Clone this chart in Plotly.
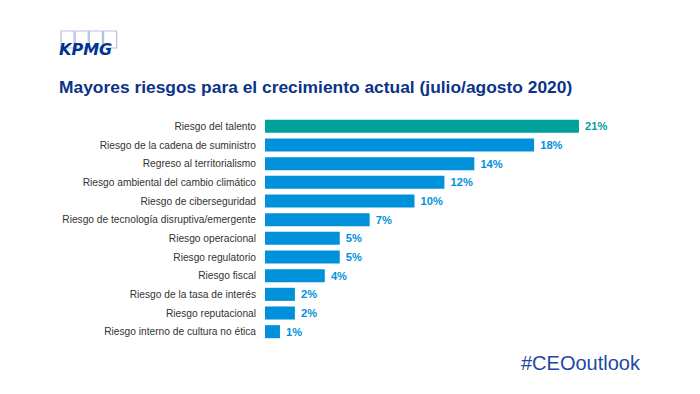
import plotly.graph_objects as go

categories = [
    "Riesgo del talento",
    "Riesgo de la cadena de suministro",
    "Regreso al territorialismo",
    "Riesgo ambiental del cambio climático",
    "Riesgo de ciberseguridad",
    "Riesgo de tecnología disruptiva/emergente",
    "Riesgo operacional",
    "Riesgo regulatorio",
    "Riesgo fiscal",
    "Riesgo de la tasa de interés",
    "Riesgo reputacional",
    "Riesgo interno de cultura no ética",
]
values = [21, 18, 14, 12, 10, 7, 5, 5, 4, 2, 2, 1]

TEAL = "#00A19A"
BLUE = "#0091DA"
colors = [TEAL] + [BLUE] * (len(values) - 1)

W, H = 700, 394
ML, MR, MT, MB = 265, 60, 117, 53

def px_x(p):
    return (p - ML) / (W - ML - MR)

def px_y(p):
    return (H - MB - p) / (H - MT - MB)

fig = go.Figure(go.Bar(
    x=values, y=categories, orientation="h",
    marker=dict(color=colors, line=dict(width=0)),
    text=[f" {v}%" for v in values],
    textposition="outside",
    textfont=dict(family="Liberation Sans, Arial", size=12.8, color=colors, weight="bold"),
    cliponaxis=False,
    hoverinfo="skip",
))

shapes = []
# KPMG logo boxes
bx0, bw, gap = 61, 13, 1.2
for i in range(4):
    x0 = bx0 + i * (bw + gap)
    shapes.append(dict(type="rect", xref="paper", yref="paper",
                       x0=px_x(x0), x1=px_x(x0 + bw), y0=px_y(48), y1=px_y(31),
                       line=dict(color="#B5C1DC", width=1.2), fillcolor="rgba(0,0,0,0)"))

annotations = [
    dict(text="<b><i>KPMG</i></b>", xref="paper", yref="paper",
         x=px_x(57), y=px_y(49), xanchor="left", yanchor="middle", showarrow=False,
         font=dict(family="DejaVu Sans", size=16, color="#00338D")),
    dict(text="<b>Mayores riesgos para el crecimiento actual (julio/agosto 2020)</b>",
         xref="paper", yref="paper", x=px_x(57), y=px_y(87), xanchor="left", yanchor="middle",
         showarrow=False, font=dict(family="Liberation Sans, Arial", size=17.4, color="#0B3389")),
    dict(text="#CEOoutlook", xref="paper", yref="paper", x=px_x(643), y=px_y(363),
         xanchor="right", yanchor="middle", showarrow=False,
         font=dict(family="Liberation Sans, Arial", size=20, color="#1E49A2")),
]

fig.update_layout(
    width=W, height=H,
    margin=dict(l=ML, r=MR, t=MT, b=MB, pad=0),
    paper_bgcolor="white", plot_bgcolor="white",
    showlegend=False,
    bargap=0.30,
    xaxis=dict(range=[0, (W - ML - MR) / 14.95], visible=False, fixedrange=True),
    yaxis=dict(autorange="reversed", showgrid=False, zeroline=False, showline=False,
               ticks="", ticklabelstandoff=8,
               tickfont=dict(family="Liberation Sans, Arial", size=10.2, color="#333333"),
               fixedrange=True),
    shapes=shapes,
    annotations=annotations,
)

fig.write_html("out.html", config={"displayModeBar": False},
               post_script="document.body.style.margin='0';document.body.style.overflow='hidden';")
